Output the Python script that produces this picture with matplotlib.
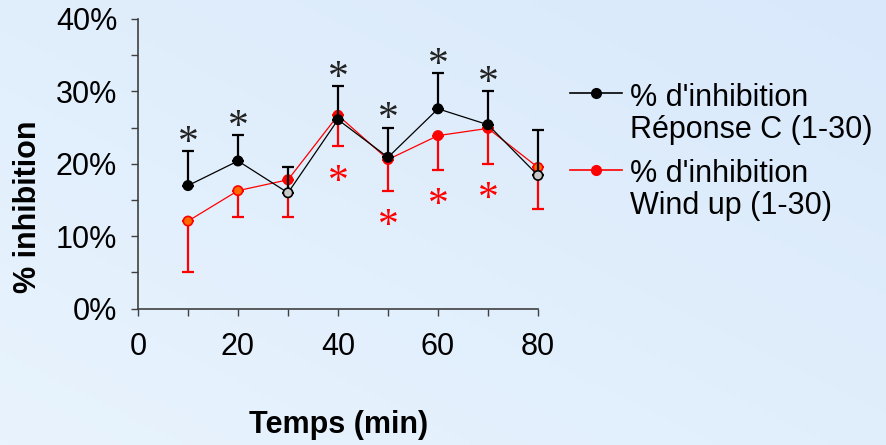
import numpy as np
import matplotlib.pyplot as plt
from matplotlib.lines import Line2D
from matplotlib.colors import LinearSegmentedColormap

# time points (min)
temps = [10, 20, 30, 40, 50, 60, 70, 80]

# % inhibition, Réponse C (1-30)
rep_c = [17.0, 20.4, 16.0, 26.1, 20.9, 27.6, 25.4, 18.4]
rep_c_err = [4.8, 3.6, 3.5, 4.6, 4.1, 4.9, 4.7, 6.3]
rep_c_sig = [True, True, False, True, True, True, True, False]
rep_c_open = [False, False, True, False, False, False, False, True]

# % inhibition, Wind up (1-30)
wind = [12.1, 16.3, 17.8, 26.7, 20.6, 23.9, 24.9, 19.5]
wind_err = [7.1, 3.6, 5.1, 4.3, 4.3, 4.7, 4.9, 5.8]
wind_sig = [False, False, False, True, True, True, True, False]
wind_orange = [True, True, False, False, False, False, False, True]

xticks = [0, 10, 20, 30, 40, 50, 60, 70, 80]
yticks = [0, 5, 10, 15, 20, 25, 30, 35, 40]

plt.rcParams['font.family'] = ['Liberation Sans', 'DejaVu Sans']

fig = plt.figure(figsize=(8.86, 4.45), dpi=100)

# light blue diagonal gradient background
bg = fig.add_axes([0, 0, 1, 1], zorder=-10)
gx, gy = np.meshgrid(np.linspace(0, 1, 200), np.linspace(0, 1, 100))
grad = (gx + gy) / 2  # row 0 at top with origin='upper'
cmap = LinearSegmentedColormap.from_list('bg', ['#e8f3fd', '#d9e9fb'])
bg.imshow(grad[::-1], aspect='auto', cmap=cmap, extent=[0, 1, 0, 1], origin='upper')
bg.axis('off')

ax = fig.add_axes([138 / 886, (445 - 308.7) / 445, 400 / 886, 289.7 / 445])
ax.patch.set_alpha(0)

# Wind up (red)
eb = ax.errorbar(temps, wind, yerr=[wind_err, [0] * len(wind)], fmt='none',
                 ecolor='red', elinewidth=1.6, capsize=4, capthick=1.6, zorder=2)
for a in eb.lines[1] + eb.lines[2]:
    a.set_clip_on(False)
ax.plot(temps, wind, color='red', lw=0.9, zorder=3, clip_on=False)
w_face = ['#ff6a00' if o else 'red' for o in wind_orange]
ax.scatter(temps, wind, s=45, c=w_face, edgecolors='red', linewidths=1.2,
           zorder=4, clip_on=False)

# Réponse C (black)
eb = ax.errorbar(temps, rep_c, yerr=[[0] * len(rep_c), rep_c_err], fmt='none',
                 ecolor='black', elinewidth=1.6, capsize=4, capthick=1.6, zorder=5)
for a in eb.lines[1] + eb.lines[2]:
    a.set_clip_on(False)
ax.plot(temps, rep_c, color='black', lw=0.9, zorder=6, clip_on=False)
c_face = ['#c8c8c8' if o else 'black' for o in rep_c_open]
ax.scatter(temps, rep_c, s=45, c=c_face, edgecolors='black', linewidths=1.2,
           zorder=7, clip_on=False)

# significance stars
for t, v, e, s in zip(temps, rep_c, rep_c_err, rep_c_sig):
    if s:
        ax.annotate('*', (t, v + e), xytext=(0, -8.5), textcoords='offset points',
                    ha='center', va='bottom', fontsize=30, color='#222222',
                    family='Liberation Serif', annotation_clip=False)
for t, v, e, s in zip(temps, wind, wind_err, wind_sig):
    if s:
        ax.annotate('*', (t, v - e), xytext=(0, -12), textcoords='offset points',
                    ha='center', va='top', fontsize=30, color='red',
                    family='Liberation Serif', annotation_clip=False)

ax.set_xlim(0, 80)
ax.set_ylim(0, 40)
ax.set_xticks(xticks)
ax.set_xticklabels([str(x) if x % 20 == 0 else '' for x in xticks])
ax.set_yticks(yticks)
ax.set_yticklabels([f'{y}%' if y % 10 == 0 else '' for y in yticks])
ax.tick_params(axis='both', labelsize=22, length=5, width=1, color='#404040', direction='out')
ax.tick_params(axis='x', pad=12)
ax.tick_params(axis='y', pad=10)
for side in ['top', 'right']:
    ax.spines[side].set_visible(False)
for side in ['left', 'bottom']:
    ax.spines[side].set_color('#404040')
    ax.spines[side].set_linewidth(1.2)

fig.text(339 / 886, 1 - 425 / 445, 'Temps (min)', fontsize=22, fontweight='bold',
         ha='center', va='center')
fig.text(28 / 886, 1 - 207 / 445, '% inhibition', fontsize=22, fontweight='bold',
         ha='center', va='center', rotation=90)

# legend
for col, ly, l1, l2, b1, b2, face in [
        ('black', 93, "% d'inhibition", 'Réponse C (1-30)', 106, 138, 'black'),
        ('red', 170, "% d'inhibition", 'Wind up (1-30)', 182, 214, 'red')]:
    fig.add_artist(Line2D([570 / 886, 622 / 886], [1 - ly / 445] * 2, color=col, lw=1.2,
                          transform=fig.transFigure))
    fig.add_artist(Line2D([596 / 886], [1 - ly / 445], marker='o', ms=7, color=face,
                          mec=col, transform=fig.transFigure))
    fig.text(630 / 886, 1 - b1 / 445, l1, fontsize=22, va='baseline', ha='left')
    fig.text(630 / 886, 1 - b2 / 445, l2, fontsize=22, va='baseline', ha='left')

fig.savefig('out.png', dpi=100)
